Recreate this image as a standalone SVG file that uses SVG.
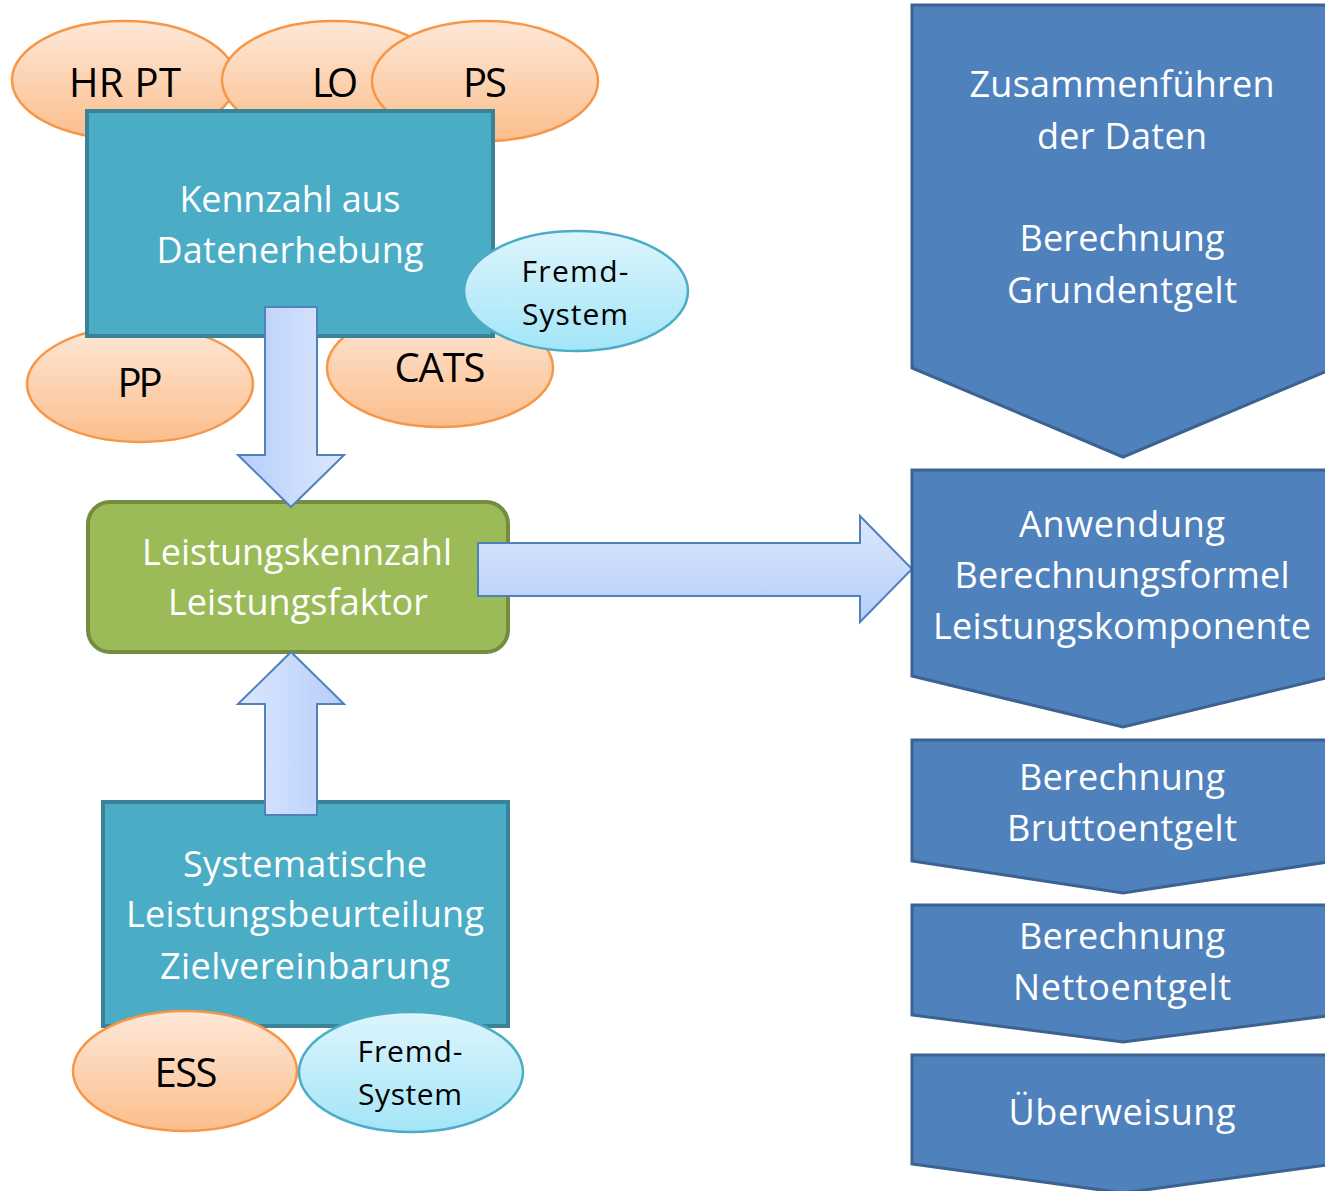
<svg xmlns="http://www.w3.org/2000/svg" width="1325" height="1191" viewBox="0 0 1325 1191">
<defs>
<linearGradient id="gOr" x1="0" y1="0" x2="0" y2="1"><stop offset="0" stop-color="#FEE8D8"/><stop offset="1" stop-color="#FBBE8C"/></linearGradient>
<linearGradient id="gCy" x1="0" y1="0" x2="0" y2="1"><stop offset="0" stop-color="#DDF5FC"/><stop offset="1" stop-color="#A3E5F8"/></linearGradient>
<linearGradient id="gDown" x1="0" y1="0" x2="1" y2="0"><stop offset="0" stop-color="#B6CEFB"/><stop offset="1" stop-color="#DCE7FD"/></linearGradient>
<linearGradient id="gUp" x1="0" y1="0" x2="1" y2="0"><stop offset="0" stop-color="#DCE7FD"/><stop offset="1" stop-color="#B6CEFB"/></linearGradient>
<linearGradient id="gRight" x1="0" y1="0" x2="0" y2="1"><stop offset="0" stop-color="#DCE7FD"/><stop offset="1" stop-color="#B6CEFB"/></linearGradient>
</defs>
<style>
.or{fill:url(#gOr);stroke:#F79646;stroke-width:2.5}
.cy{fill:url(#gCy);stroke:#4BACC6;stroke-width:2.5}
.box{fill:#4BACC6;stroke:#3A8297;stroke-width:4}
.grn{fill:#9BBB59;stroke:#738C40;stroke-width:4}
.chev{fill:#4F81BD;stroke:#3B6291;stroke-width:3}
.arr{stroke:#4F81BD;stroke-width:2}
text{font-family:"Open Sans","Noto Sans","Liberation Sans",sans-serif;text-anchor:middle}
.bl{fill:#000;font-size:40px}
.fs{fill:#000;font-size:30px}
.wt{fill:#fff;font-size:36px}
</style>

<g id="ell-hrpt"><ellipse class="or" cx="124" cy="80" rx="112" ry="59"/><text class="bl" x="125" y="97" textLength="112">HR PT</text></g>
<g id="ell-lo"><ellipse class="or" cx="334" cy="80" rx="112" ry="59"/><text class="bl" x="335" y="97" textLength="46">LO</text></g>
<g id="ell-ps"><ellipse class="or" cx="485" cy="81" rx="113" ry="60"/><text class="bl" x="485" y="97" textLength="44">PS</text></g>
<g id="ell-pp"><ellipse class="or" cx="140" cy="384" rx="113" ry="58"/><text class="bl" x="140" y="397" textLength="45">PP</text></g>
<g id="ell-cats"><ellipse class="or" cx="440" cy="368" rx="113" ry="59"/><text class="bl" x="440" y="382" textLength="91">CATS</text></g>

<g id="box-kennzahl"><rect class="box" x="87" y="111" width="406" height="225"/>
<text class="wt" x="290" y="212" textLength="221">Kennzahl aus</text>
<text class="wt" x="290" y="263" textLength="267">Datenerhebung</text></g>

<g id="ell-fremd1"><ellipse class="cy" cx="576" cy="291" rx="112" ry="60"/>
<text class="fs" x="575" y="282" textLength="107">Fremd-</text>
<text class="fs" x="575" y="325" textLength="106">System</text></g>

<g id="box-leistung"><rect class="grn" x="88" y="502" width="420" height="150" rx="22" ry="22"/>
<text class="wt" x="297" y="565" textLength="310">Leistungskennzahl</text>
<text class="wt" x="298" y="615" textLength="260">Leistungsfaktor</text></g>

<g id="box-system"><rect class="box" x="103" y="802" width="405" height="224"/>
<text class="wt" x="305" y="877" textLength="244">Systematische</text>
<text class="wt" x="305" y="927" textLength="358">Leistungsbeurteilung</text>
<text class="wt" x="305" y="979" textLength="290">Zielvereinbarung</text></g>

<g id="ell-ess"><ellipse class="or" cx="185" cy="1071" rx="112" ry="60"/><text class="bl" x="186" y="1087" textLength="63">ESS</text></g>
<g id="ell-fremd2"><ellipse class="cy" cx="411" cy="1072" rx="112" ry="60"/>
<text class="fs" x="410" y="1062" textLength="105">Fremd-</text>
<text class="fs" x="410" y="1105" textLength="104">System</text></g>

<g id="connectors">
<polygon class="arr" fill="url(#gDown)" points="265,307 317,307 317,455 344,455 291,507 238,455 265,455"/>
<polygon class="arr" fill="url(#gUp)" points="265,815 317,815 317,704 344,704 291,652 238,704 265,704"/>
<polygon class="arr" fill="url(#gRight)" points="478,543 860,543 860,516 912,569 860,622 860,596 478,596"/>
</g>

<g id="chev1"><polygon class="chev" points="912,5 1334,5 1334,368 1123,457 912,368"/>
<text class="wt" x="1122" y="97" textLength="305">Zusammenführen</text>
<text class="wt" x="1122" y="149" textLength="170">der Daten</text>
<text class="wt" x="1122" y="251" textLength="205">Berechnung</text>
<text class="wt" x="1122" y="303" textLength="230">Grundentgelt</text></g>

<g id="chev2"><polygon class="chev" points="912,470 1334,470 1334,676 1123,727 912,676"/>
<text class="wt" x="1122" y="537" textLength="206">Anwendung</text>
<text class="wt" x="1122" y="588" textLength="335">Berechnungsformel</text>
<text class="wt" x="1122" y="639" textLength="378">Leistungskomponente</text></g>

<g id="chev3"><polygon class="chev" points="912,740 1334,740 1334,861 1123,893 912,861"/>
<text class="wt" x="1122" y="790" textLength="206">Berechnung</text>
<text class="wt" x="1122" y="841" textLength="230">Bruttoentgelt</text></g>

<g id="chev4"><polygon class="chev" points="912,905 1334,905 1334,1015 1123,1042 912,1015"/>
<text class="wt" x="1122" y="949" textLength="206">Berechnung</text>
<text class="wt" x="1122" y="1000" textLength="218">Nettoentgelt</text></g>

<g id="chev5"><polygon class="chev" points="912,1055 1334,1055 1334,1164 1123,1193 912,1164"/>
<text class="wt" x="1122" y="1125" textLength="227">Überweisung</text></g>
</svg>
